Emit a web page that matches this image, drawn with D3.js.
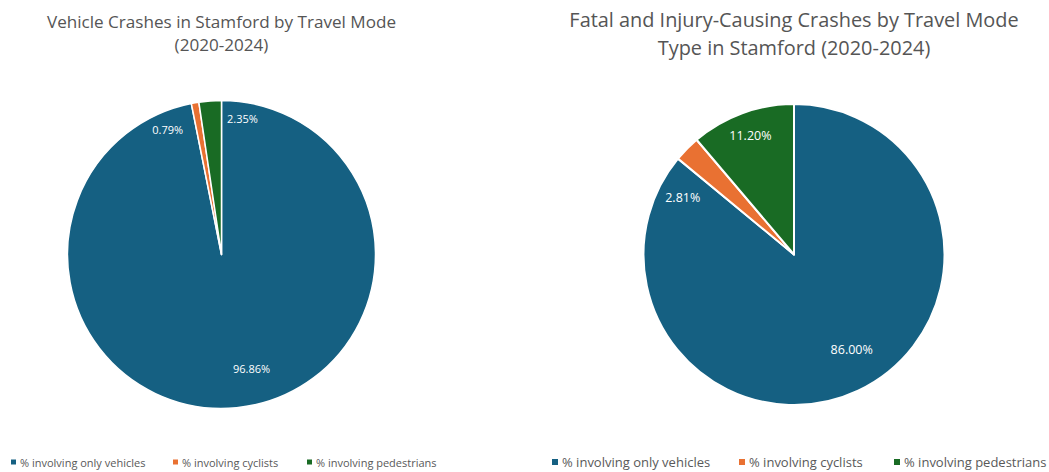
<!DOCTYPE html>
<html lang="en">
<head>
<meta charset="utf-8">
<title>Stamford crashes by travel mode</title>
<script src="https://d3js.org/d3.v7.min.js"></script>
<style>
  body { margin: 0; background: #fff; }
  text { font-family: "Open Sans", "Noto Sans", sans-serif; }
</style>
</head>
<body>
<script>

const categories = ["% involving only vehicles", "% involving cyclists", "% involving pedestrians"];
const allCrashes = [96.86, 0.79, 2.35];
const fatalInjury = [86.00, 2.81, 11.20];
const colors = ["#156082", "#E97132", "#196B24"];

const W = 1049, H = 472;

const svg = d3.select("body").append("svg")
  .attr("width", W).attr("height", H);

// layout per chart (labels nudged like Excel's best-fit)
const charts = [
  {
    title: ["Vehicle Crashes in Stamford by Travel Mode", "(2020-2024)"],
    values: allCrashes,
    cx: 221.5, cy: 254.5, r: 154,
    titleY: [28, 51], titleSize: 17.1,
    labelSize: 11, stroke: 1.5,
    labelShift: [-9, -13.5, 13], labelR: [0.77, 0.88, 0.89],
    legendX: [11, 173, 307], legendY: 463, legendSize: 11, marker: 5
  },
  {
    title: ["Fatal and Injury-Causing Crashes by Travel Mode", "Type in Stamford (2020-2024)"],
    values: fatalInjury,
    cx: 794, cy: 254.5, r: 150.5,
    titleY: [27, 55], titleSize: 19.9,
    labelSize: 12.5, stroke: 2,
    labelShift: [-6, -17.6, 0], labelR: [0.74, 0.83, 0.84],
    legendX: [552, 739, 894], legendY: 463, legendSize: 13, marker: 6
  }
];

charts.forEach(c => {
  const g = svg.append("g");

  // title
  c.title.forEach((line, i) => {
    g.append("text")
      .attr("x", c.cx).attr("y", c.titleY[i])
      .attr("text-anchor", "middle")
      .attr("font-size", c.titleSize)
      .attr("fill", "#555")
      .text(line);
  });

  const pie = d3.pie().sort(null).value(d => d);
  const arcs = pie(c.values);
  const arc = d3.arc().innerRadius(0).outerRadius(c.r);

  const pg = g.append("g").attr("transform", `translate(${c.cx},${c.cy})`);

  pg.selectAll("path")
    .data(arcs)
    .enter()
    .append("path")
    .attr("d", arc)
    .attr("fill", (d, i) => colors[i])
    .attr("stroke", "#fff")
    .attr("stroke-width", c.stroke)
    .attr("stroke-linejoin", "round");

  pg.selectAll("text.lbl")
    .data(arcs)
    .enter()
    .append("text")
    .attr("class", "lbl")
    .attr("transform", (d, i) => {
      const a = (d.startAngle + d.endAngle) / 2 + c.labelShift[i] * Math.PI / 180;
      const rr = c.r * c.labelR[i];
      return `translate(${Math.sin(a) * rr},${-Math.cos(a) * rr})`;
    })
    .attr("text-anchor", "middle")
    .attr("dy", "0.35em")
    .attr("font-size", c.labelSize)
    .attr("fill", "#fff")
    .text(d => d.data.toFixed(2) + "%");

  // legend
  const lg = g.append("g");
  categories.forEach((name, i) => {
    lg.append("rect")
      .attr("x", c.legendX[i]).attr("y", c.legendY - c.marker / 2 - 1)
      .attr("width", c.marker).attr("height", c.marker)
      .attr("fill", colors[i]);
    lg.append("text")
      .attr("x", c.legendX[i] + c.marker + 4).attr("y", c.legendY)
      .attr("dy", "0.32em")
      .attr("font-size", c.legendSize)
      .attr("fill", "#595959")
      .text(name);
  });
});

</script>
</body>
</html>
